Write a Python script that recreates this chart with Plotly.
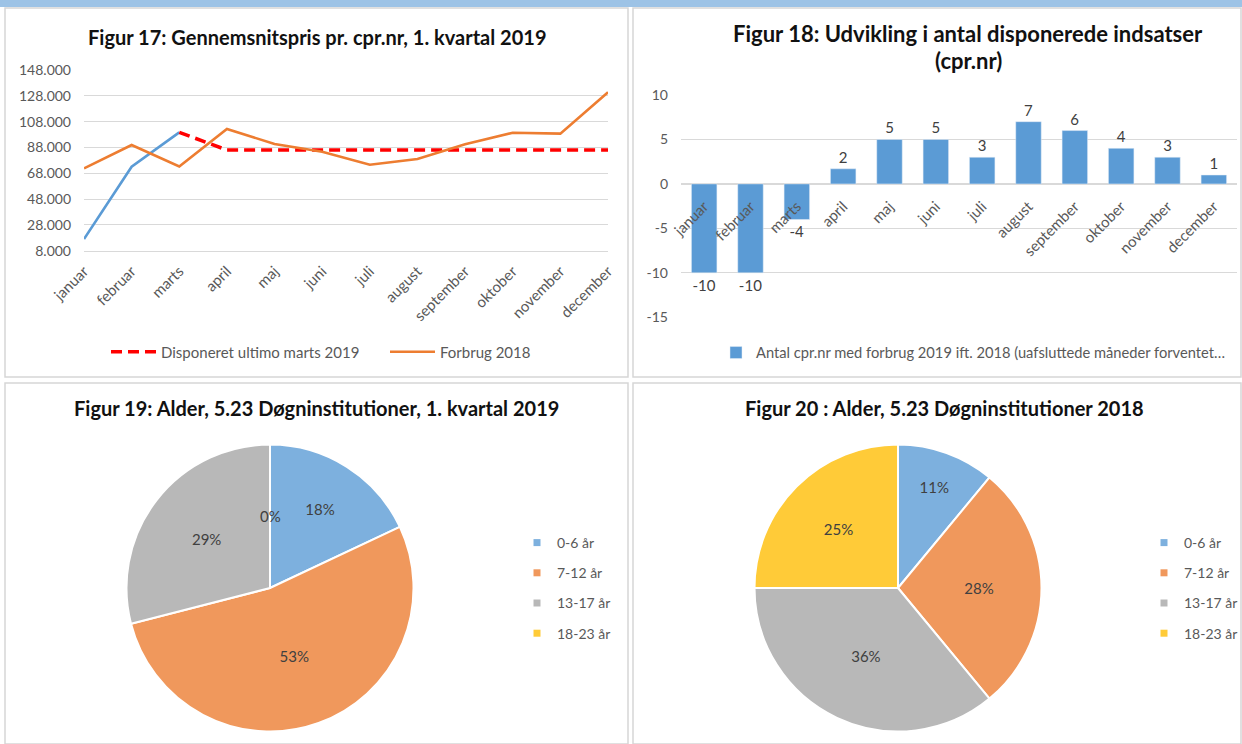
import plotly.graph_objects as go

W, H = 1242, 744

# ---------------- data ----------------
months = ["januar", "februar", "marts", "april", "maj", "juni", "juli",
          "august", "september", "oktober", "november", "december"]

# Figur 17
forbrug_2019 = [17000, 73100, 99700, None, None, None, None, None, None, None, None, None]
disponeret_2019 = [None, None, 99700, 86000, 86000, 86000, 86000, 86000, 86000, 86000, 86000, 86000]
forbrug_2018 = [71800, 89900, 73300, 102300, 90700, 84700, 74600, 79000, 90400, 99400, 98700, 130700]
fig17_yticks = [8000, 28000, 48000, 68000, 88000, 108000, 128000, 148000]

# Figur 18
antal_cpr = [-10, -10, -4, 1.7, 5, 5, 3, 7, 6, 4, 3, 1]
antal_labels = ["-10", "-10", "-4", "2", "5", "5", "3", "7", "6", "4", "3", "1"]
fig18_yticks = [-15, -10, -5, 0, 5, 10]
fig18_yticktext = ["-15", "-10", "-5", "0", "5", "10"]

# Figur 19 / 20
age_groups = ["0-6 år", "7-12 år", "13-17 år", "18-23 år"]
alder_2019 = [18, 53, 29, 0]
alder_2018 = [11, 28, 36, 25]
age_colors = ["#7DB0DE", "#F0985C", "#B8B8B8", "#FFCB38"]

FONT = "Lato"
TXT = "#595959"
GRID = "#D9D9D9"


def px(x):
    return x / W


def py(y):
    return 1 - y / H


fig = go.Figure()

# ---------- Figur 17 (line chart) ----------
fig.add_trace(go.Scatter(x=months, y=forbrug_2019, mode="lines", name="Forbrug 2019",
                         line=dict(color="#5B9BD5", width=2.6), showlegend=False,
                         xaxis="x", yaxis="y"))
fig.add_trace(go.Scatter(x=months, y=disponeret_2019, mode="lines",
                         name="Disponeret ultimo marts 2019",
                         line=dict(color="#FF0000", width=3.5, dash="11px,6px"),
                         xaxis="x", yaxis="y", legend="legend"))
fig.add_trace(go.Scatter(x=months, y=forbrug_2018, mode="lines", name="Forbrug 2018",
                         line=dict(color="#ED7D31", width=2.6),
                         xaxis="x", yaxis="y", legend="legend"))

# ---------- Figur 18 (bar chart) ----------
fig.add_trace(go.Bar(x=months, y=antal_cpr, text=antal_labels, textposition="outside",
                     textfont=dict(family=FONT, size=15, color="#404040"),
                     marker=dict(color="#5B9BD5"), cliponaxis=False,
                     name="Antal cpr.nr med forbrug 2019 ift. 2018 (uafsluttede måneder forventet…",
                     xaxis="x2", yaxis="y2", legend="legend2"))

# ---------- Figur 19 / 20 (pies) ----------
r1 = 143.5
cx1, cx2, cy = 270, 898, 588
pie_text = dict(family=FONT, size=15, color="#404040")
fig.add_trace(go.Pie(labels=age_groups, values=alder_2019, sort=False, direction="clockwise",
                     marker=dict(colors=age_colors, line=dict(color="white", width=2)),
                     texttemplate="%{percent:.0%}", textposition="inside",
                     insidetextorientation="horizontal", textfont=pie_text,
                     showlegend=False,
                     domain=dict(x=[px(cx1 - r1), px(cx1 + r1)], y=[py(cy + r1), py(cy - r1)])))
fig.add_trace(go.Pie(labels=age_groups, values=alder_2018, sort=False, direction="clockwise",
                     marker=dict(colors=age_colors, line=dict(color="white", width=2)),
                     texttemplate="%{percent:.0%}", textposition="inside",
                     insidetextorientation="horizontal", textfont=pie_text,
                     showlegend=False,
                     domain=dict(x=[px(cx2 - r1), px(cx2 + r1)], y=[py(cy + r1), py(cy - r1)])))

# legend entries for pies
for leg in ["legend3", "legend4"]:
    for lab, col in zip(age_groups, age_colors):
        fig.add_trace(go.Scatter(x=[None], y=[None], mode="markers", name=lab,
                                 marker=dict(symbol="square", size=7, color=col),
                                 legend=leg, legendgroup=leg + lab,
                                 xaxis="x", yaxis="y"))

# ---------- layout ----------
zero_pos = py(317.3) + (0 - (-15)) / 25 * (py(95) - py(317.3))

shapes = [
    dict(type="rect", xref="paper", yref="paper", x0=0, x1=1, y0=py(7), y1=1,
         fillcolor="#9DC3E6", line=dict(width=0), layer="below"),
]
for (x0, y0, x1, y1) in [(5, 8, 628, 377), (633, 8, 1241, 377),
                         (5, 383, 628, 744), (633, 383, 1241, 744)]:
    shapes.append(dict(type="rect", xref="paper", yref="paper",
                       x0=px(x0), x1=px(x1), y0=py(y1), y1=py(y0),
                       fillcolor="white", line=dict(color="#D6D6D6", width=1.5), layer="below"))

title_font = dict(family=FONT, size=20, color="#111111", weight="bold")
title18_font = dict(family=FONT, size=22, color="#111111", weight="bold")
annotations = [
    dict(text="Figur 17: Gennemsnitspris pr. cpr.nr, 1. kvartal 2019", x=px(317), y=py(37),
         font=title_font),
    dict(text="Figur 18: Udvikling i antal disponerede indsatser", x=px(968), y=py(34),
         font=title18_font),
    dict(text="(cpr.nr)", x=px(968), y=py(60), font=title18_font),
    dict(text="Figur 19: Alder, 5.23 Døgninstitutioner, 1. kvartal 2019", x=px(316), y=py(408),
         font=title_font),
    dict(text="Figur 20 : Alder, 5.23 Døgninstitutioner 2018", x=px(944), y=py(408),
         font=title_font),
]
for a in annotations:
    a.update(xref="paper", yref="paper", showarrow=False, xanchor="center", yanchor="middle")

# label of the empty (0 %) slice in Figur 19, placed at half radius above the pie centre
annotations.append(dict(text="0%", xref="paper", yref="paper", showarrow=False,
                        x=px(cx1), y=py(cy - 0.5 * r1), xanchor="center", yanchor="middle",
                        font=pie_text))

legend_font = dict(family=FONT, size=14, color=TXT)

fig.update_layout(
    width=W, height=H,
    margin=dict(l=0, r=0, t=0, b=0, pad=0, autoexpand=False),
    paper_bgcolor="white", plot_bgcolor="rgba(0,0,0,0)",
    separators=",.",
    font=dict(family=FONT, color=TXT, size=14),
    shapes=shapes, annotations=annotations,
    bargap=0.45,
    xaxis=dict(domain=[px(84), px(608)], anchor="y", type="category",
               tickangle=-45, tickfont=dict(size=15, color=TXT), ticklabelstandoff=5,
               showgrid=False, showline=True, linecolor=GRID, linewidth=1, ticks="",
               automargin=False),
    yaxis=dict(domain=[py(250.7), py(70)], anchor="x", range=[8000, 148000],
               tickvals=fig17_yticks, tickformat=",.0f",
               showgrid=True, gridcolor=GRID, gridwidth=1, zeroline=False,
               tickfont=dict(size=14, color=TXT), ticklabelstandoff=12, automargin=False),
    xaxis2=dict(domain=[px(681), px(1237)], anchor="free", position=zero_pos,
                type="category", tickangle=-45, tickfont=dict(size=15, color=TXT),
                ticklabelstandoff=10,
                showgrid=False, showline=False, ticks="", automargin=False),
    yaxis2=dict(domain=[py(317.3), py(95)], anchor="x2", range=[-15, 10],
                tickvals=fig18_yticks, ticktext=fig18_yticktext,
                showgrid=True, gridcolor=GRID, gridwidth=1,
                zeroline=True, zerolinecolor=GRID, zerolinewidth=1.5,
                tickfont=dict(size=14, color=TXT), ticklabelstandoff=12, automargin=False),
    legend=dict(orientation="h", x=px(106), xanchor="left", y=py(352), yanchor="middle",
                font=dict(family=FONT, size=15, color=TXT), bgcolor="rgba(0,0,0,0)",
                itemwidth=45, entrywidth=219),
    legend2=dict(orientation="h", x=px(716), xanchor="left", y=py(353), yanchor="middle",
                 font=dict(family=FONT, size=14.7, color=TXT), bgcolor="rgba(0,0,0,0)"),
    legend3=dict(orientation="v", x=px(517), xanchor="left", y=py(527), yanchor="top",
                 font=legend_font, bgcolor="rgba(0,0,0,0)", tracegroupgap=9),
    legend4=dict(orientation="v", x=px(1144), xanchor="left", y=py(527), yanchor="top",
                 font=legend_font, bgcolor="rgba(0,0,0,0)", tracegroupgap=9),
)

fig.write_html("out.html", config={"displayModeBar": False},
               post_script="document.body.style.margin='0';document.body.style.overflow='hidden';")
